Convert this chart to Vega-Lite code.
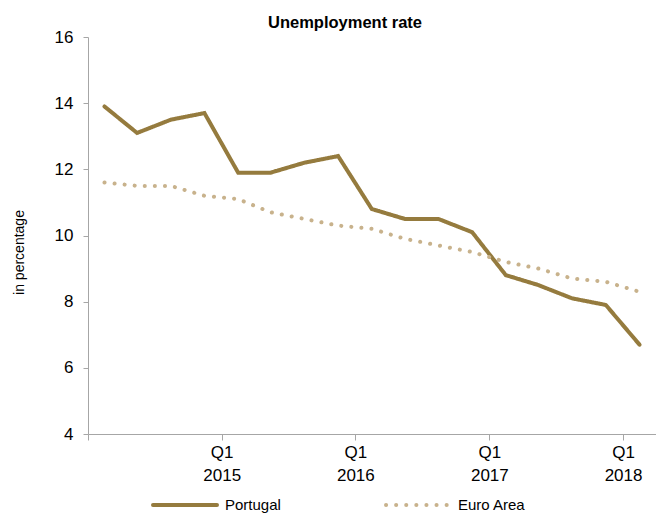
{
  "$schema": "https://vega.github.io/schema/vega-lite/v6.json",
  "width": 568,
  "height": 397,
  "autosize": "none",
  "padding": {"left": 88, "top": 37, "right": 0, "bottom": 80},
  "background": "white",
  "title": {"text": "Unemployment rate", "fontSize": 16.5, "fontWeight": "bold", "font": "Liberation Sans", "color": "black", "anchor": "middle", "dx": -27, "offset": -3},
  "data": {"values": [
    {"date": "2014-02-15T00:00:00", "series": "Portugal", "value": 13.9},
    {"date": "2014-05-15T00:00:00", "series": "Portugal", "value": 13.1},
    {"date": "2014-08-15T00:00:00", "series": "Portugal", "value": 13.5},
    {"date": "2014-11-15T00:00:00", "series": "Portugal", "value": 13.7},
    {"date": "2015-02-15T00:00:00", "series": "Portugal", "value": 11.9},
    {"date": "2015-05-15T00:00:00", "series": "Portugal", "value": 11.9},
    {"date": "2015-08-15T00:00:00", "series": "Portugal", "value": 12.2},
    {"date": "2015-11-15T00:00:00", "series": "Portugal", "value": 12.4},
    {"date": "2016-02-15T00:00:00", "series": "Portugal", "value": 10.8},
    {"date": "2016-05-15T00:00:00", "series": "Portugal", "value": 10.5},
    {"date": "2016-08-15T00:00:00", "series": "Portugal", "value": 10.5},
    {"date": "2016-11-15T00:00:00", "series": "Portugal", "value": 10.1},
    {"date": "2017-02-15T00:00:00", "series": "Portugal", "value": 8.8},
    {"date": "2017-05-15T00:00:00", "series": "Portugal", "value": 8.5},
    {"date": "2017-08-15T00:00:00", "series": "Portugal", "value": 8.1},
    {"date": "2017-11-15T00:00:00", "series": "Portugal", "value": 7.9},
    {"date": "2018-02-15T00:00:00", "series": "Portugal", "value": 6.7},
    {"date": "2014-02-15T00:00:00", "series": "Euro Area", "value": 11.6},
    {"date": "2014-05-15T00:00:00", "series": "Euro Area", "value": 11.5},
    {"date": "2014-08-15T00:00:00", "series": "Euro Area", "value": 11.5},
    {"date": "2014-11-15T00:00:00", "series": "Euro Area", "value": 11.2},
    {"date": "2015-02-15T00:00:00", "series": "Euro Area", "value": 11.1},
    {"date": "2015-05-15T00:00:00", "series": "Euro Area", "value": 10.7},
    {"date": "2015-08-15T00:00:00", "series": "Euro Area", "value": 10.5},
    {"date": "2015-11-15T00:00:00", "series": "Euro Area", "value": 10.3},
    {"date": "2016-02-15T00:00:00", "series": "Euro Area", "value": 10.2},
    {"date": "2016-05-15T00:00:00", "series": "Euro Area", "value": 9.9},
    {"date": "2016-08-15T00:00:00", "series": "Euro Area", "value": 9.7},
    {"date": "2016-11-15T00:00:00", "series": "Euro Area", "value": 9.5},
    {"date": "2017-02-15T00:00:00", "series": "Euro Area", "value": 9.2},
    {"date": "2017-05-15T00:00:00", "series": "Euro Area", "value": 9.0},
    {"date": "2017-08-15T00:00:00", "series": "Euro Area", "value": 8.7},
    {"date": "2017-11-15T00:00:00", "series": "Euro Area", "value": 8.6},
    {"date": "2018-02-15T00:00:00", "series": "Euro Area", "value": 8.3}
  ]},
  "mark": {"type": "line", "strokeWidth": 4, "strokeCap": "round", "strokeJoin": "miter"},
  "encoding": {
    "x": {
      "field": "date", "type": "temporal",
      "scale": {"domain": [{"year": 2014, "month": 1, "date": 1}, {"year": 2018, "month": 4, "date": 1}]},
      "axis": {
        "title": null, "grid": false,
        "values": [{"year": 2014, "month": 1, "date": 1}, {"year": 2015, "month": 1, "date": 1}, {"year": 2016, "month": 1, "date": 1}, {"year": 2017, "month": 1, "date": 1}, {"year": 2018, "month": 1, "date": 1}],
        "labelExpr": "year(datum.value) == 2014 ? '' : ['Q1', timeFormat(datum.value, '%Y')]",
        "tickSize": 6, "labelPadding": 4, "labelFontSize": 17, "labelLineHeight": 23,
        "labelOverlap": false, "labelFlush": false
      }
    },
    "y": {
      "field": "value", "type": "quantitative",
      "scale": {"domain": [4, 16], "nice": false, "zero": false},
      "axis": {
        "values": [4, 6, 8, 10, 12, 14, 16], "grid": false, "tickSize": 5, "labelPadding": 10, "labelFontSize": 17,
        "title": "in percentage", "titleFontSize": 14, "titleFontWeight": "normal", "titleX": -62, "titleY": 215
      }
    },
    "color": {
      "field": "series", "type": "nominal",
      "scale": {"domain": ["Portugal", "Euro Area"], "range": ["#957B3E", "#C8B28C"]},
      "legend": {
        "orient": "none", "legendX": 63, "legendY": 434, "direction": "horizontal", "title": null,
        "symbolType": "stroke", "symbolSize": 4096, "symbolStrokeWidth": 4, "labelFontSize": 15, "labelOffset": 6,
        "columnPadding": 97,
        "encode": {"symbols": {"update": {"strokeCap": {"value": "round"}}}}
      }
    },
    "strokeDash": {
      "field": "series", "type": "nominal",
      "scale": {"domain": ["Portugal", "Euro Area"], "range": [[1, 0], [0.1, 10]]}
    }
  },
  "config": {
    "font": "Liberation Sans",
    "view": {"stroke": null},
    "axis": {"domainColor": "#A6A6A6", "tickColor": "#A6A6A6", "labelColor": "black", "titleColor": "black", "labelFont": "Liberation Sans", "titleFont": "Liberation Sans"},
    "legend": {"labelColor": "black", "labelFont": "Liberation Sans"}
  }
}
